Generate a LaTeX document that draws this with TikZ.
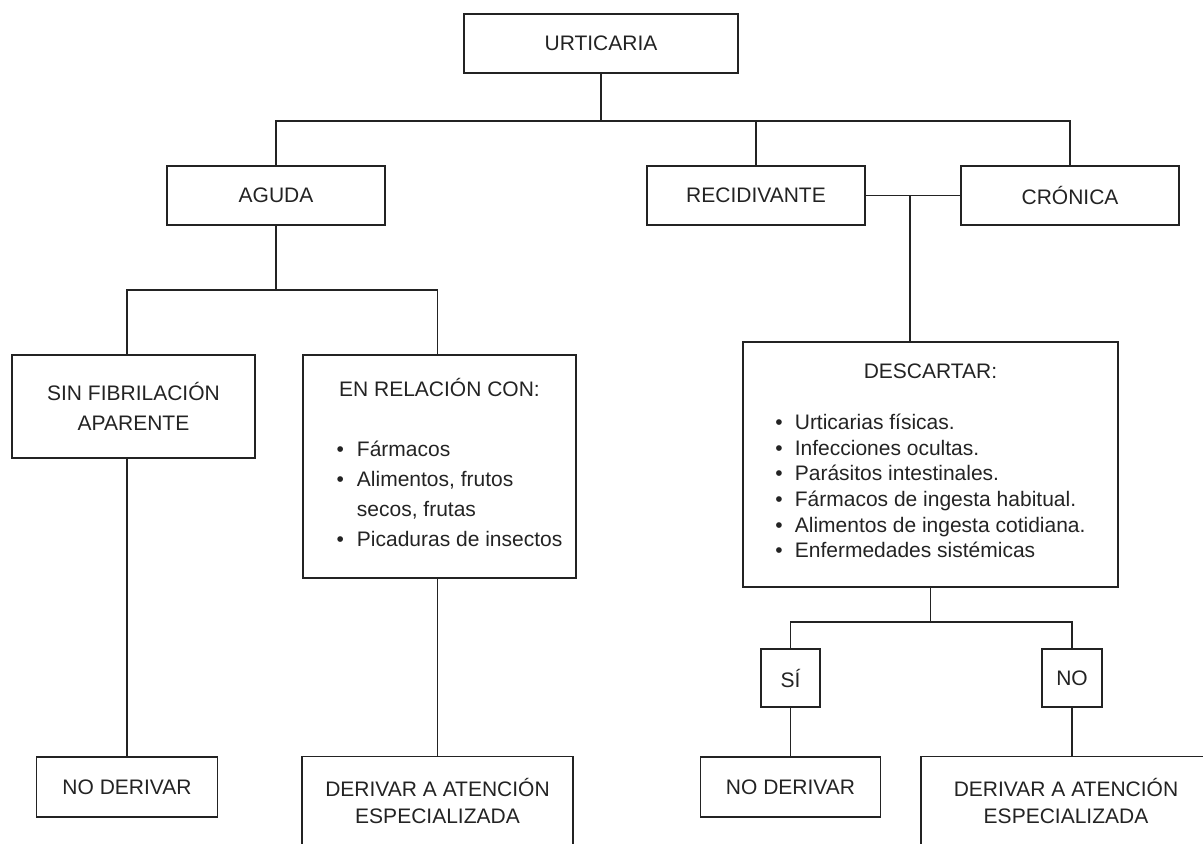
\documentclass[tikz,border=0pt]{standalone}
\usepackage{fontspec}
\setmainfont{Liberation Sans}
\definecolor{tinta}{RGB}{35,35,35}
\begin{document}
\begin{tikzpicture}[x=0.5pt,y=-0.5pt,line width=0.6pt,color=tinta]
		\tikzset{caja/.style={draw,inner sep=0pt,align=center,font=\fontsize{10.5}{15}\selectfont},
			lista/.style={caja,font=\fontsize{10.5}{12.8}\selectfont},
			deriv/.style={caja,font=\fontsize{10.5}{13.5}\selectfont}}
		\useasboundingbox (0,0) rectangle (1203,843);
		\clip (0,0) rectangle (1203,843);
		\node[caja,minimum width=137pt,minimum height=29.5pt] (urt) at (601,43.5) {URTICARIA};
		\foreach \n/\x/\t in {aguda/276/AGUDA,recid/756/RECIDIVANTE,cron/1070/CRÓNICA}
		\node[caja,minimum width=109pt,minimum height=29.5pt] (\n) at (\x,195.5) {\t};
		%Rama aguda
		\node[caja,minimum width=121.5pt,minimum height=51.5pt] (sinfib) at (133.5,406.5) {SIN FIBRILACIÓN\\APARENTE};
		\node[caja,minimum width=136.5pt,minimum height=111.5pt] (enrel) at (439.5,466.5) {EN RELACIÓN CON:\\[15pt]\hspace*{10pt}\begin{tabular}[t]{@{}l@{\hspace{6.5pt}}l@{}}
				\textbullet & Fármacos\\
				\textbullet & Alimentos, frutos\\
				& secos, frutas\\
				\textbullet & Picaduras de insectos
			\end{tabular}};
		\node[caja,minimum width=90.5pt,minimum height=30pt] (noder1) at (127,787) {NO DERIVAR};
		\node[deriv,minimum width=135.5pt,minimum height=44pt] (derivA) at (437.5,800.5) {DERIVAR A ATENCIÓN\\ESPECIALIZADA};
		%Rama recidivante y crónica
		\node[lista,minimum width=187.5pt,minimum height=122.5pt] (descartar) at (930.5,464.5) {DESCARTAR:\\[12.8pt]\begin{tabular}[t]{@{}l@{\hspace{6pt}}l@{}}
				\textbullet & Urticarias físicas.\\
				\textbullet & Infecciones ocultas.\\
				\textbullet & Parásitos intestinales.\\
				\textbullet & Fármacos de ingesta habitual.\\
				\textbullet & Alimentos de ingesta cotidiana.\\
				\textbullet & Enfermedades sistémicas
			\end{tabular}};
		\node[caja,minimum width=29.5pt,minimum height=29pt] (si) at (790.5,678) {SÍ};
		\node[caja,minimum width=30pt,minimum height=29pt] (no) at (1072,678) {NO};
		\node[caja,minimum width=90pt,minimum height=30pt] (noder2) at (790.5,787) {NO DERIVAR};
		\node[deriv,minimum width=145pt,minimum height=44pt] (derivB) at (1066,800.5) {DERIVAR A ATENCIÓN\\ESPECIALIZADA};
		%Conectores
		\coordinate (b1) at (601,121);
		\coordinate (b2) at (276,290);
		\coordinate (j1) at (910,195.5);
		\coordinate (b3) at (930.5,622);
		\draw (urt.south) -- (b1);
		\draw (aguda.north) |- (b1) -| (cron.north);
		\draw (recid.north) -- (recid.north |- b1);
		\draw (aguda.south) -- (b2);
		\draw (noder1.north |- sinfib.north) |- (b2) -| (derivA.north |- enrel.north);
		\draw (noder1.north) -- (noder1.north |- sinfib.south);
		\draw (derivA.north) -- (derivA.north |- enrel.south);
		\draw (recid.east) -- (cron.west);
		\draw (j1) -- (j1 |- descartar.north);
		\draw (descartar.south) -- (b3);
		\draw (si.north) |- (b3) -| (no.north);
		\draw (si.south) -- (noder2.north);
		\draw (no.south) -- (no.south |- derivB.north);
\end{tikzpicture}
\end{document}
